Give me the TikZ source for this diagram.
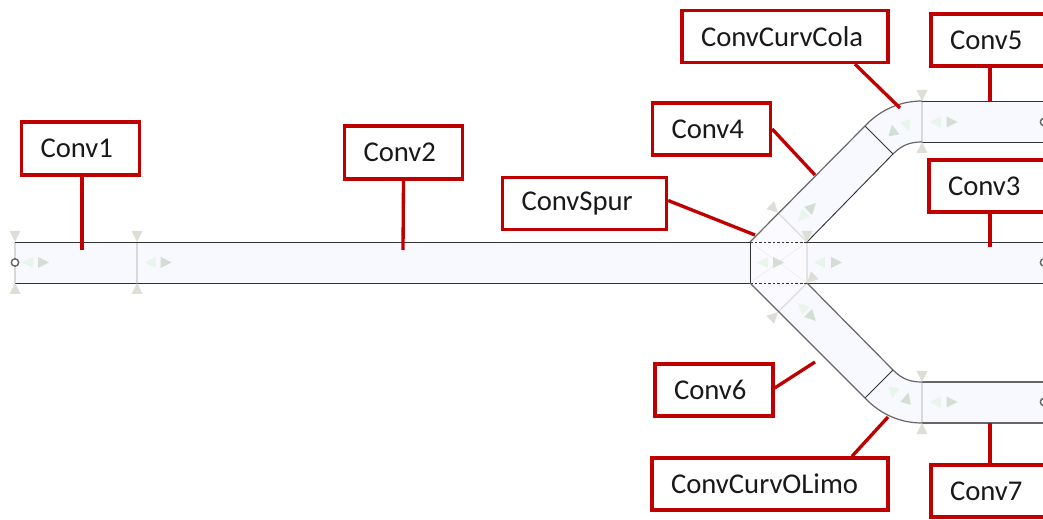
\documentclass[tikz,border=0pt]{standalone}
\usepackage{fontspec}
\setmainfont{Carlito}
\usetikzlibrary{calc}
\definecolor{labred}{HTML}{C00000}
\definecolor{beltfill}{HTML}{F8F9FF}
\definecolor{hubfill}{HTML}{FBFBFF}
\definecolor{edgedark}{HTML}{333333}
\definecolor{edgegrey}{HTML}{666666}
\definecolor{capgrey}{HTML}{DDDFD6}
\definecolor{seam}{HTML}{D8D8D8}
\definecolor{dirdark}{HTML}{D4DED4}
\definecolor{dirpale}{HTML}{E8F4EC}
\tikzset{
  x=0.75pt,y=-0.75pt,
  labbox/.style 2 args={draw=labred,line width=2.5pt,fill=white,
    minimum width=#1*0.75pt-1.5pt,minimum height=#2*0.75pt-1.5pt,
    inner xsep=14.25pt,inner ysep=0pt,text width=(#1-38)*0.75pt,align=left,
    font=\fontsize{21.5}{25}\selectfont,text=black!90},
  leader/.style={draw=labred,line width=2.5pt},
  beltedge/.style={draw=edgedark,line width=0.7pt},
  bendedge/.style={draw=edgegrey,line width=0.9pt},
  seamline/.style={draw=seam,line width=0.8pt},
  belt/.style={fill=beltfill},
  endpoint/.style={draw=edgegrey,fill=white,line width=1.1pt,circle,inner sep=0pt,minimum size=5.5pt},
}
\newcommand{\dirtri}[4]{\begin{scope}[shift={(#1,#2)},rotate=#3]\fill[#4] (-5.5,-5.5) -- (5.5,0) -- (-5.5,5.5) -- cycle;\end{scope}}
\newcommand{\captri}[3]{\begin{scope}[shift={(#1,#2)},rotate=#3]\fill[capgrey] (0,0) -- (11,-5.5) -- (11,5.5) -- cycle;\end{scope}}
\newcommand{\lbl}[1]{\raisebox{-0.75pt}{#1}}
\begin{document}
\begin{tikzpicture}
\useasboundingbox (0,0) rectangle (1043,520);
\clip (0,0) rectangle (1043,520);
% belts
\fill[belt] (15,242) rectangle (750,283);
\fill[belt] (807,242) rectangle (1050,283);
\fill[belt] (778,213) -- (865,126) .. controls (880,110) and (900,101) .. (922,101) -- (1050,101) -- (1050,142) -- (922,142) .. controls (910,142) and (902,145) .. (893,154) -- (807,242) -- cycle;
\fill[belt] (778,312) -- (865,398) .. controls (880,414) and (900,423) .. (922,423) -- (1050,423) -- (1050,382) -- (922,382) .. controls (910,382) and (902,379) .. (893,370) -- (807,283) -- cycle;
\fill[hubfill] (750,242) -- (778,213) -- (807,242) -- (807,283) -- (778,312) -- (750,283) -- cycle;
\draw[draw=seam!50,line width=0.4pt] (750,242) -- (807,283) (750,283) -- (807,242);
% seams
\draw[seamline] (15,242) -- (15,283);
\draw[seamline] (137,242) -- (137,283);
\draw[seamline] (922,101) -- (922,142);
\draw[seamline] (922,382) -- (922,423);
\draw[seamline] (778,213) -- (807,242) -- (807,283) -- (778,312);
% edges
\draw[beltedge] (15,242) -- (750,242) (15,283) -- (750,283);
\draw[beltedge] (807,242) -- (1043,242) (807,283) -- (1043,283);
\draw[beltedge] (750,242) -- (750,283);
\draw[draw=edgedark,line width=0.7pt,dash pattern=on 2pt off 1.4pt] (750,242) -- (807,242) (750,283) -- (807,283);
\draw[bendedge] (750,242) -- (865,126);
\draw[beltedge] (807,242) -- (893,154);
\draw[beltedge] (865,126) -- (893,154);
\draw[bendedge] (865,126) .. controls (880,110) and (900,101) .. (922,101);
\draw[bendedge] (893,154) .. controls (902,145) and (910,142) .. (922,142);
\draw[beltedge] (922,101) -- (1043,101) (922,142) -- (1043,142);
\draw[bendedge] (750,283) -- (865,398);
\draw[bendedge] (807,283) -- (893,370);
\draw[beltedge] (865,398) -- (893,370);
\draw[bendedge] (865,398) .. controls (880,414) and (900,423) .. (922,423);
\draw[bendedge] (893,370) .. controls (902,379) and (910,382) .. (922,382);
\draw[bendedge] (922,382) -- (1043,382) (922,423) -- (1043,423);
% direction marks
\dirtri{27.5}{262.5}{180}{dirpale}\dirtri{43.5}{262.5}{0}{dirdark}
\dirtri{150}{262.5}{180}{dirpale}\dirtri{166}{262.5}{0}{dirdark}
\dirtri{762.5}{262.5}{180}{dirpale}\dirtri{778.5}{262.5}{0}{dirdark}
\dirtri{819.5}{262.5}{180}{dirpale}\dirtri{836.5}{262.5}{0}{dirdark}
\dirtri{935.5}{122}{180}{dirpale}\dirtri{952}{122}{0}{dirdark}
\dirtri{935.5}{402}{180}{dirpale}\dirtri{952}{402}{0}{dirdark}
\dirtri{812}{207}{45}{dirdark}\dirtri{802}{217}{225}{dirpale}
\dirtri{802}{307}{135}{dirpale}\dirtri{812}{317}{-45}{dirdark}
\dirtri{893}{130}{100}{dirdark}\dirtri{907}{126}{-70}{dirpale}
\dirtri{893}{393}{-100}{dirpale}\dirtri{907}{398}{75}{dirdark}
% cap marks
\captri{15}{242}{90}\captri{15}{283}{-90}
\captri{137}{242}{90}\captri{137}{283}{-90}
\captri{922}{101}{90}\captri{922}{142}{-90}
\captri{922}{382}{90}\captri{922}{423}{-90}
\captri{778}{213}{135}\captri{807}{242}{90}
\captri{807}{283}{45}\captri{778}{312}{225}
% belt end points
\node[endpoint] (e1) at (15,262.5) {};
\node[endpoint] (e2) at (1044,122) {};
\node[endpoint] (e3) at (1044,262.5) {};
\node[endpoint] (e4) at (1044,402) {};
% free ends
\coordinate (p1) at (82,250);
\coordinate (p2) at (403,250);
\coordinate (pspur) at (755,235);
\coordinate (p4) at (815,175);
\coordinate (pcola) at (900,108);
\coordinate (p5) at (990,102);
\coordinate (p3) at (990,247);
\coordinate (p6) at (815,362);
\coordinate (plimo) at (888,417);
\coordinate (p7) at (990,423);
% labels
\node[labbox={118}{55}] (conv1) at (80.5,148.5) {\lbl{Conv1}};
\node[labbox={118}{55}] (conv2) at (403.5,152.5) {\lbl{Conv2}};
\node[labbox={164}{54}] (spur) at (584.5,203.5) {\lbl{ConvSpur}};
\node[labbox={118}{54}] (conv4) at (711.5,129) {\lbl{Conv4}};
\node[labbox={206}{54}] (cola) at (785,36.5) {ConvCurvCola};
\node[labbox={170}{54}] (conv5) at (1016,40) {\lbl{Conv5}};
\node[labbox={172}{54}] (conv3) at (1015,186) {\lbl{Conv3}};
\node[labbox={118}{54}] (conv6) at (714,390) {\lbl{Conv6}};
\node[labbox={236}{54}] (limo) at (770,484) {\lbl{ConvCurvOLimo}};
\node[labbox={170}{54}] (conv7) at (1016,491) {\lbl{Conv7}};
% leaders
\draw[leader] (conv1.south -| p1) -- (p1);
\draw[leader] (conv2.south) -- (p2);
\draw[leader] ($(spur.east)+(0,-3)$) -- (pspur);
\draw[leader] (conv4.east) -- (p4);
\draw[leader] (cola.south -| 855,0) -- (pcola);
\draw[leader] (conv5.south -| p5) -- (p5);
\draw[leader] (conv3.south -| p3) -- (p3);
\draw[leader] ($(conv6.east)+(0,-2)$) -- (p6);
\draw[leader] (limo.north -| 852,0) -- (plimo);
\draw[leader] (conv7.north -| p7) -- (p7);
\end{tikzpicture}
\end{document}
